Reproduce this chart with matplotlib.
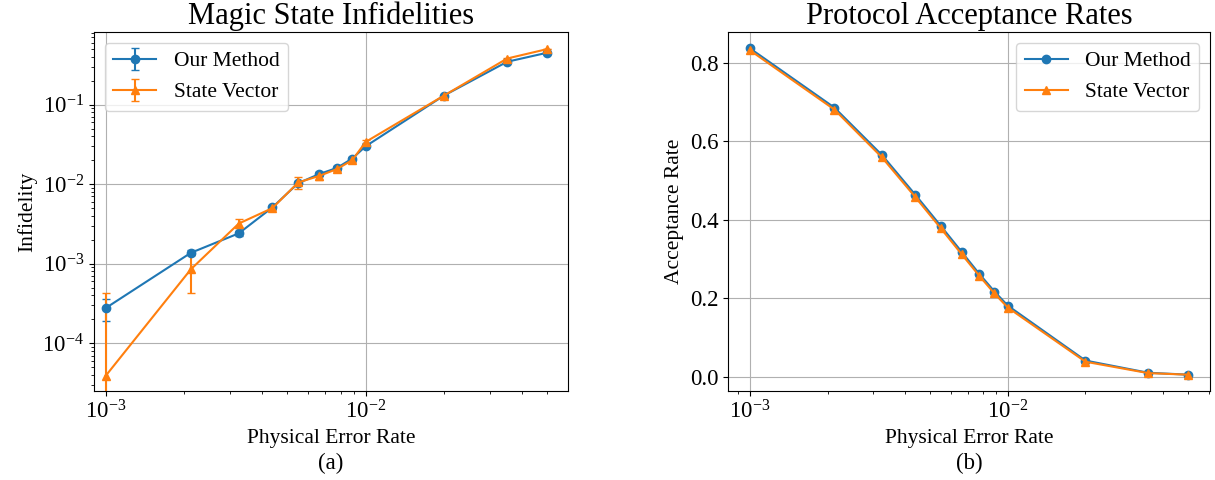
import matplotlib
matplotlib.use("Agg")
import matplotlib.pyplot as plt

plt.rcParams['font.family'] = 'serif'
plt.rcParams['font.serif'] = ['Liberation Serif', 'DejaVu Serif']
plt.rcParams['mathtext.fontset'] = 'stix'

# physical error rates
p = [0.001, 0.002125, 0.00325, 0.004375, 0.0055, 0.006625, 0.00775, 0.008875,
     0.01, 0.02, 0.035, 0.05]

# infidelities
inf_ours = [2.77e-4, 1.37e-3, 2.41e-3, 5.1e-3, 1.03e-2, 1.34e-2, 1.6e-2, 2.1e-2,
            3.0e-2, 0.13, 0.346, 0.45]
err_ours = [8.5e-5, 1.0e-4, 2.0e-4, 2.5e-4, 6.0e-4, 7.0e-4, 8.0e-4, 9.0e-4,
            1.0e-3, 2.0e-3, 3.0e-3, 3.0e-3]
inf_sv = [3.9e-5, 8.5e-4, 3.2e-3, 5.0e-3, 1.05e-2, 1.27e-2, 1.55e-2, 2.0e-2,
          3.4e-2, 0.13, 0.38, 0.50]
err_sv = [3.9e-4, 4.2e-4, 4.0e-4, 3.0e-4, 1.9e-3, 1.5e-3, 1.0e-3, 1.0e-3,
          1.5e-3, 3.0e-3, 4.0e-3, 4.0e-3]

# acceptance rates
acc_ours = [0.837, 0.686, 0.565, 0.464, 0.384, 0.318, 0.262, 0.217, 0.181,
            0.041, 0.010, 0.005]
acc_sv = [0.832, 0.681, 0.559, 0.458, 0.378, 0.312, 0.257, 0.212, 0.176,
          0.038, 0.009, 0.005]

fig = plt.figure(figsize=(12.15, 4.8), dpi=100)
ax1 = fig.add_axes([94 / 1215, 1 - 391 / 480, 474 / 1215, 359 / 480])
ax2 = fig.add_axes([728 / 1215, 1 - 391 / 480, 482 / 1215, 359 / 480])

ax1.errorbar(p, inf_ours, yerr=err_ours, marker='o', capsize=3, label='Our Method')
ax1.errorbar(p, inf_sv, yerr=err_sv, marker='^', capsize=3, label='State Vector')
ax1.set_xscale('log')
ax1.set_yscale('log')
ax1.set_xlim(10 ** -3.045, 10 ** -1.222)
ax1.set_ylim(10 ** -4.6, 10 ** -0.087)
ax1.set_title('Magic State Infidelities', fontsize=22)
ax1.set_xlabel('Physical Error Rate', fontsize=15.5)
ax1.set_ylabel('Infidelity', fontsize=15.5)
ax1.tick_params(labelsize=16.5)
ax1.grid(True)
ax1.legend(fontsize=15.5, loc='upper left')

ax2.plot(p, acc_ours, marker='o', label='Our Method')
ax2.plot(p, acc_sv, marker='^', label='State Vector')
ax2.set_xscale('log')
ax2.set_title('Protocol Acceptance Rates', fontsize=22)
ax2.set_xlabel('Physical Error Rate', fontsize=15.5)
ax2.set_ylabel('Acceptance Rate', fontsize=15.5)
ax2.tick_params(labelsize=16.5)
ax2.grid(True)
ax2.legend(fontsize=15.5, loc='upper right')

fig.text(331 / 1215, 1 - 463 / 480, '(a)', ha='center', va='center', fontsize=16.5)
fig.text(969 / 1215, 1 - 463 / 480, '(b)', ha='center', va='center', fontsize=16.5)

fig.savefig('out.png', dpi=100)
